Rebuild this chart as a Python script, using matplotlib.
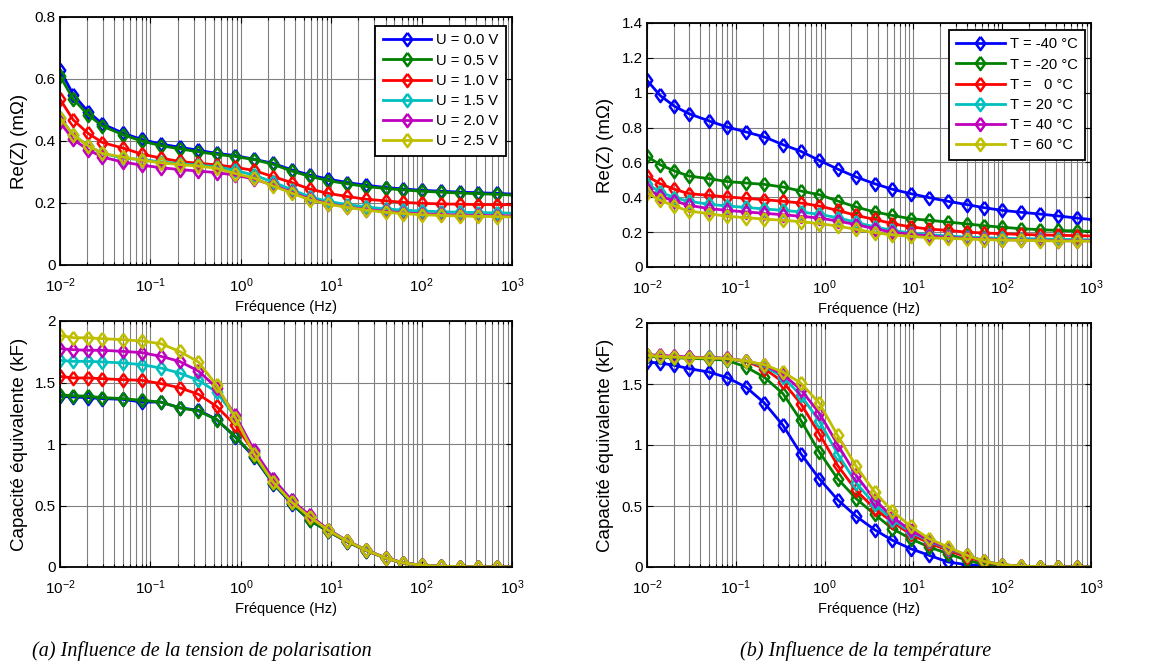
import matplotlib
matplotlib.use("Agg")
import matplotlib.pyplot as plt
from matplotlib.ticker import LogLocator, NullLocator, FormatStrFormatter, FixedLocator
import numpy as np

plt.rcParams['font.family'] = ['Liberation Sans', 'DejaVu Sans']
plt.rcParams['mathtext.fontset'] = 'custom'
plt.rcParams['mathtext.rm'] = 'Liberation Sans'
plt.rcParams['mathtext.it'] = 'Liberation Sans:italic'
plt.rcParams['mathtext.default'] = 'regular'
plt.rcParams['axes.unicode_minus'] = False

# ---------------- data ----------------
freq = [0.01, 0.014, 0.0204, 0.0295, 0.05, 0.08, 0.13, 0.21, 0.34, 0.54, 0.87, 1.4,
        2.27, 3.65, 5.8, 9.3, 15, 24.5, 40, 63, 100, 163, 265, 425, 690, 1120]

labels_U = ['U = 0.0 V', 'U = 0.5 V', 'U = 1.0 V', 'U = 1.5 V', 'U = 2.0 V', 'U = 2.5 V']
labels_T = ['T = -40 °C', 'T = -20 °C', 'T =   0 °C', 'T = 20 °C', 'T = 40 °C', 'T = 60 °C']
colors = ['#0000ff', '#008000', '#ff0000', '#00bfbf', '#bf00bf', '#bfbf00']

reZ_U00 = [0.63, 0.55, 0.495, 0.455, 0.425, 0.405, 0.39, 0.38, 0.37, 0.36, 0.353, 0.341, 0.328,
           0.307, 0.29, 0.277, 0.266, 0.257, 0.25, 0.245, 0.241, 0.238, 0.235, 0.233, 0.231, 0.228]
reZ_U05 = [0.61, 0.535, 0.485, 0.448, 0.42, 0.40, 0.385, 0.375, 0.365, 0.357, 0.35, 0.34, 0.325,
           0.303, 0.286, 0.272, 0.262, 0.253, 0.247, 0.242, 0.238, 0.235, 0.232, 0.23, 0.228, 0.225]
reZ_U10 = [0.535, 0.468, 0.425, 0.395, 0.377, 0.358, 0.345, 0.334, 0.328, 0.323, 0.315, 0.305, 0.285,
           0.266, 0.245, 0.231, 0.221, 0.212, 0.207, 0.202, 0.199, 0.197, 0.196, 0.195, 0.195, 0.194]
reZ_U15 = [0.475, 0.42, 0.385, 0.36, 0.345, 0.34, 0.333, 0.327, 0.322, 0.317, 0.305, 0.29, 0.268,
           0.243, 0.22, 0.205, 0.195, 0.187, 0.181, 0.177, 0.174, 0.172, 0.17, 0.169, 0.168, 0.167]
reZ_U20 = [0.46, 0.405, 0.372, 0.348, 0.332, 0.322, 0.314, 0.308, 0.303, 0.298, 0.29, 0.277, 0.258,
           0.235, 0.213, 0.198, 0.187, 0.179, 0.173, 0.168, 0.165, 0.163, 0.161, 0.16, 0.159, 0.158]
reZ_U25 = [0.475, 0.42, 0.385, 0.36, 0.348, 0.338, 0.33, 0.324, 0.319, 0.312, 0.295, 0.28, 0.255,
           0.232, 0.21, 0.196, 0.186, 0.177, 0.17, 0.166, 0.162, 0.16, 0.158, 0.157, 0.156, 0.155]

reZ_Tm40 = [1.071, 0.985, 0.922, 0.88, 0.838, 0.803, 0.775, 0.746, 0.702, 0.664, 0.612, 0.562, 0.516,
            0.478, 0.446, 0.421, 0.398, 0.377, 0.358, 0.34, 0.325, 0.314, 0.304, 0.293, 0.281, 0.27]
reZ_Tm20 = [0.635, 0.587, 0.551, 0.522, 0.507, 0.49, 0.482, 0.474, 0.459, 0.436, 0.415, 0.379, 0.344,
            0.316, 0.296, 0.277, 0.268, 0.258, 0.247, 0.237, 0.228, 0.22, 0.214, 0.21, 0.207, 0.204]
reZ_T0 = [0.522, 0.478, 0.446, 0.421, 0.411, 0.402, 0.394, 0.386, 0.377, 0.367, 0.35, 0.325, 0.296,
          0.273, 0.249, 0.23, 0.218, 0.21, 0.2, 0.195, 0.191, 0.187, 0.184, 0.182, 0.18, 0.178]
reZ_T20 = [0.478, 0.43, 0.398, 0.377, 0.36, 0.35, 0.342, 0.333, 0.325, 0.316, 0.302, 0.283, 0.256,
           0.23, 0.21, 0.195, 0.186, 0.178, 0.172, 0.168, 0.164, 0.163, 0.161, 0.159, 0.157, 0.156]
reZ_T40 = [0.45, 0.405, 0.379, 0.354, 0.335, 0.325, 0.316, 0.308, 0.3, 0.291, 0.281, 0.264, 0.243,
           0.22, 0.2, 0.187, 0.178, 0.17, 0.164, 0.161, 0.157, 0.155, 0.153, 0.151, 0.151, 0.15]
reZ_T60 = [0.425, 0.383, 0.35, 0.321, 0.306, 0.291, 0.283, 0.275, 0.268, 0.26, 0.249, 0.235, 0.216,
           0.197, 0.184, 0.176, 0.168, 0.164, 0.161, 0.157, 0.155, 0.153, 0.151, 0.149, 0.149, 0.148]

cap_U00 = [1.388, 1.382, 1.377, 1.369, 1.363, 1.341, 1.341, 1.295, 1.274, 1.2, 1.057, 0.894, 0.678,
           0.515, 0.379, 0.29, 0.205, 0.133, 0.072, 0.032, 0.014, 0.006, 0.003, 0.002, 0.001, 0.001]
cap_U05 = [1.398, 1.393, 1.388, 1.377, 1.369, 1.355, 1.341, 1.295, 1.268, 1.198, 1.062, 0.9, 0.683,
           0.52, 0.379, 0.29, 0.205, 0.133, 0.072, 0.032, 0.014, 0.006, 0.003, 0.002, 0.001, 0.001]
cap_U10 = [1.55, 1.537, 1.537, 1.531, 1.523, 1.518, 1.491, 1.458, 1.404, 1.306, 1.152, 0.935, 0.705,
           0.534, 0.407, 0.298, 0.21, 0.136, 0.073, 0.033, 0.014, 0.006, 0.003, 0.002, 0.001, 0.001]
cap_U15 = [1.68, 1.672, 1.672, 1.667, 1.659, 1.645, 1.618, 1.577, 1.518, 1.423, 1.22, 0.943, 0.718,
           0.542, 0.412, 0.304, 0.213, 0.137, 0.074, 0.033, 0.014, 0.006, 0.003, 0.002, 0.001, 0.001]
cap_U20 = [1.775, 1.767, 1.762, 1.762, 1.753, 1.743, 1.713, 1.672, 1.593, 1.458, 1.233, 0.949, 0.718,
           0.542, 0.42, 0.304, 0.213, 0.137, 0.074, 0.033, 0.014, 0.006, 0.003, 0.002, 0.001, 0.001]
cap_U25 = [1.883, 1.864, 1.864, 1.856, 1.848, 1.837, 1.816, 1.753, 1.667, 1.477, 1.214, 0.921, 0.691,
           0.528, 0.407, 0.298, 0.211, 0.136, 0.073, 0.033, 0.014, 0.006, 0.003, 0.002, 0.001, 0.001]

cap_Tm40 = [1.68, 1.672, 1.653, 1.626, 1.598, 1.552, 1.475, 1.344, 1.161, 0.929, 0.724, 0.552, 0.415,
            0.306, 0.219, 0.15, 0.096, 0.041, 0.019, 0.008, 0.004, 0.002, 0.001, 0.001, 0.001, 0.001]
cap_Tm20 = [1.727, 1.721, 1.716, 1.71, 1.705, 1.694, 1.64, 1.555, 1.421, 1.202, 0.943, 0.724, 0.56,
            0.432, 0.314, 0.232, 0.164, 0.109, 0.055, 0.022, 0.008, 0.003, 0.002, 0.001, 0.001, 0.001]
cap_T0 = [1.735, 1.73, 1.724, 1.718, 1.718, 1.708, 1.686, 1.626, 1.516, 1.339, 1.093, 0.833, 0.628,
          0.478, 0.369, 0.268, 0.197, 0.137, 0.082, 0.041, 0.014, 0.005, 0.002, 0.001, 0.001, 0.001]
cap_T20 = [1.735, 1.73, 1.724, 1.718, 1.718, 1.708, 1.689, 1.645, 1.557, 1.407, 1.197, 0.929, 0.689,
           0.514, 0.388, 0.287, 0.213, 0.15, 0.096, 0.046, 0.019, 0.007, 0.003, 0.001, 0.001, 0.001]
cap_T40 = [1.74, 1.735, 1.727, 1.721, 1.716, 1.71, 1.689, 1.653, 1.579, 1.454, 1.262, 1.005, 0.751,
           0.552, 0.41, 0.3, 0.219, 0.156, 0.096, 0.046, 0.019, 0.007, 0.003, 0.001, 0.001, 0.001]
cap_T60 = [1.735, 1.727, 1.721, 1.716, 1.713, 1.708, 1.689, 1.658, 1.598, 1.508, 1.344, 1.079, 0.825,
           0.615, 0.459, 0.333, 0.232, 0.164, 0.096, 0.046, 0.019, 0.007, 0.003, 0.001, 0.001, 0.001]

reZ_U = [reZ_U00, reZ_U05, reZ_U10, reZ_U15, reZ_U20, reZ_U25]
reZ_T = [reZ_Tm40, reZ_Tm20, reZ_T0, reZ_T20, reZ_T40, reZ_T60]
cap_U = [cap_U00, cap_U05, cap_U10, cap_U15, cap_U20, cap_U25]
cap_T = [cap_Tm40, cap_Tm20, cap_T0, cap_T20, cap_T40, cap_T60]

xlabel = 'Fréquence (Hz)'
ylabel_re = 'Re(Z) (mΩ)'
ylabel_cap = 'Capacité équivalente (kF)'
caption_a = '(a) Influence de la tension de polarisation'
caption_b = '(b) Influence de la température'

# ---------------- figure ----------------
W, H = 1166, 672
fig = plt.figure(figsize=(W / 100, H / 100), dpi=100)


def ax_px(l, t, r, b):
    return fig.add_axes([l / W, 1 - b / H, (r - l) / W, (b - t) / H])


diamond = [(0, 1), (0.72, 0), (0, -1), (-0.72, 0), (0, 1)]


def setup(ax, series, labels, ymax, ystep, ylab, legend_anchor=None):
    for vals, col, lab in zip(series, colors, labels):
        ax.plot(freq, vals, color=col, lw=2.0, marker=diamond, ms=9.5,
                mfc='none', mec=col, mew=1.8, label=lab, clip_on=True)
    ax.set_xscale('log')
    ax.set_xlim(1e-2, 1e3)
    ax.set_ylim(0, ymax)
    ax.yaxis.set_major_locator(FixedLocator(np.arange(0, ymax + 1e-9, ystep)))
    ax.yaxis.set_major_formatter(FormatStrFormatter('%g'))
    ax.yaxis.set_minor_locator(NullLocator())
    ax.xaxis.set_major_locator(LogLocator(base=10, numticks=20))
    ax.xaxis.set_minor_locator(LogLocator(base=10, subs=np.arange(2, 10), numticks=100))
    ax.grid(True, which='major', color='0.5', lw=0.8)
    ax.grid(True, which='minor', axis='x', color='0.5', lw=0.8)
    ax.set_axisbelow(True)
    ax.tick_params(which='both', direction='in', top=True, right=True, labelsize=11, width=0.8)
    ax.tick_params(which='major', length=4)
    ax.tick_params(which='minor', length=2.5)
    ax.tick_params(axis='x', which='major', pad=8)
    ax.tick_params(axis='y', pad=3)
    for s in ax.spines.values():
        s.set_linewidth(1.3)
    ax.set_xlabel(xlabel, fontsize=10.5, labelpad=4)
    ax.set_ylabel(ylab, fontsize=13.5)
    if legend_anchor is not None:
        leg = ax.legend(loc='upper right', bbox_to_anchor=legend_anchor, borderaxespad=0,
                        fontsize=10.6, handlelength=3.3, handletextpad=0.35,
                        labelspacing=0.42, borderpad=0.5, fancybox=False, framealpha=1,
                        edgecolor='black')
        leg.get_frame().set_linewidth(1.3)


ax1 = ax_px(60, 17, 512, 265)
setup(ax1, reZ_U, labels_U, 0.8, 0.2, ylabel_re, legend_anchor=((506 - 60) / 452, 1 - (26 - 17) / 248))
ax2 = ax_px(647, 23, 1091, 267)
setup(ax2, reZ_T, labels_T, 1.4, 0.2, ylabel_re, legend_anchor=((1085 - 647) / 444, 1 - (30 - 23) / 244))
ax3 = ax_px(60, 321, 512, 567)
setup(ax3, cap_U, labels_U, 2.0, 0.5, ylabel_cap)
ax4 = ax_px(647, 323, 1091, 567)
setup(ax4, cap_T, labels_T, 2.0, 0.5, ylabel_cap)

for ax, l, w in [(ax1, 60, 452), (ax2, 647, 444), (ax3, 60, 452), (ax4, 647, 444)]:
    xc = 20 if l == 60 else 606
    ax.yaxis.set_label_coords((xc - l) / w, 0.5)
    ax.yaxis.label.set_va('center')

fig.text(202 / W, 1 - 651 / H, caption_a, ha='center', va='center',
         family='Liberation Serif', style='italic', fontsize=14.5)
fig.text(866 / W, 1 - 651 / H, caption_b, ha='center', va='center',
         family='Liberation Serif', style='italic', fontsize=14.5)

fig.savefig('out.png', dpi=100, facecolor='white')
